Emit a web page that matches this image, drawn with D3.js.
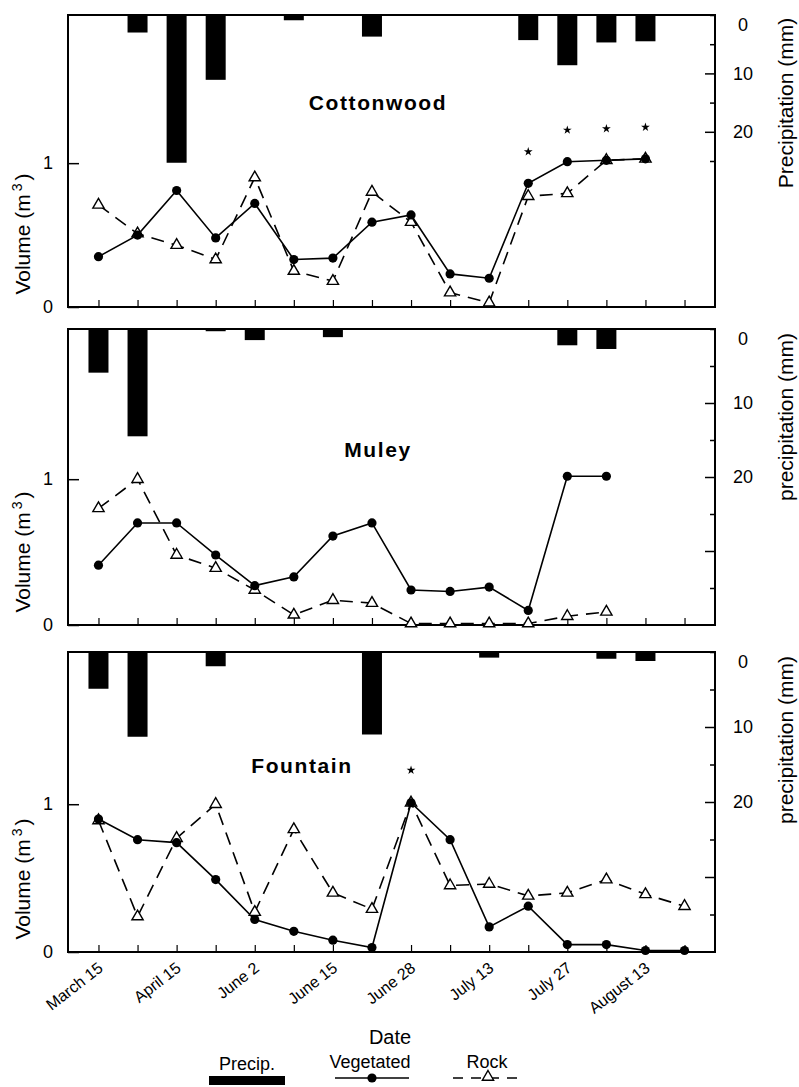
<!DOCTYPE html>
<html>
<head>
<meta charset="utf-8">
<script src="https://cdn.jsdelivr.net/npm/d3@7"></script>
<style>
  body { margin: 0; background: #fff; }
  svg { font-family: "Liberation Sans", Arial, Helvetica, sans-serif; }
</style>
</head>
<body>
<div id="chart"></div>
<script>
// sampling dates, only every other one is labelled on the axis
var dateLabels = ["March 15", "", "April 15", "", "June 2", "", "June 15", "",
                  "June 28", "", "July 13", "", "July 27", "", "August 13", ""];

// runoff volume (m3), null = no sample
var cottonwoodVegetated = [0.35, 0.50, 0.81, 0.48, 0.72, 0.33, 0.34, 0.59, 0.64, 0.23, 0.20, 0.86, 1.01, 1.02, 1.03, null];
var cottonwoodRock      = [0.71, 0.51, 0.43, 0.33, 0.90, 0.25, 0.18, 0.80, 0.59, 0.10, 0.03, 0.77, 0.79, 1.02, 1.03, null];
var cottonwoodPrecip    = [0, 3.0, 25.3, 11.1, 0, 0.9, 0, 3.7, 0, 0, 0, 4.3, 8.6, 4.7, 4.5, 0];  // mm
var cottonwoodSignif    = [11, 12, 13, 14];

var muleyVegetated = [0.41, 0.70, 0.70, 0.48, 0.27, 0.33, 0.61, 0.70, 0.24, 0.23, 0.26, 0.10, 1.02, 1.02, null, null];
var muleyRock      = [0.80, 1.00, 0.48, 0.39, 0.24, 0.07, 0.17, 0.15, 0.01, 0.01, 0.01, 0.01, 0.06, 0.09, null, null];
var muleyPrecip    = [5.9, 14.5, 0, 0.3, 1.5, 0, 1.1, 0, 0, 0, 0, 0, 2.2, 2.7, 0, 0];
var muleySignif    = [];

var fountainVegetated = [0.90, 0.76, 0.74, 0.49, 0.22, 0.14, 0.08, 0.03, 1.01, 0.76, 0.17, 0.31, 0.05, 0.05, 0.01, 0.01];
var fountainRock      = [0.89, 0.24, 0.77, 1.00, 0.27, 0.83, 0.40, 0.29, 1.01, 0.45, 0.46, 0.38, 0.40, 0.49, 0.39, 0.31];
var fountainPrecip    = [4.9, 11.3, 0, 1.9, 0, 0, 0, 11.0, 0, 0, 0.75, 0, 0, 0.9, 1.2, 0];
var fountainSignif    = [8];

var precipLabels = [0, 10, 20];

var W = 799, H = 1087;
var left = 68, right = 715;

var panels = [
    {name: "Cottonwood", top: 15, bottom: 307, veg: cottonwoodVegetated, rock: cottonwoodRock,
     precip: cottonwoodPrecip, signif: cottonwoodSignif, pMax: 50, pTickMax: 25,
     pLabel: "Precipitation (mm)", titleX: 378, titleDy: 95},
    {name: "Muley", top: 329, bottom: 625, veg: muleyVegetated, rock: muleyRock,
     precip: muleyPrecip, signif: muleySignif, pMax: 40, pTickMax: 35,
     pLabel: "precipitation (mm)", titleX: 378, titleDy: 128},
    {name: "Fountain", top: 652, bottom: 952, veg: fountainVegetated, rock: fountainRock,
     precip: fountainPrecip, signif: fountainSignif, pMax: 40, pTickMax: 35,
     pLabel: "precipitation (mm)", titleX: 302, titleDy: 121}
];

var svg = d3.select("#chart").append("svg")
    .attr("width", W)
    .attr("height", H);

var x = d3.scalePoint()
    .domain(d3.range(dateLabels.length))
    .range([left, right])
    .padding(0.78);

var triangle = d3.symbol().type(d3.symbolTriangle).size(55);
var star = d3.symbol().type(d3.symbolStar).size(24);

panels.forEach(function(p, k) {
    var isLast = k === panels.length - 1;
    var y = d3.scaleLinear().domain([0, 2.03]).range([p.bottom, p.top]);
    var yp = d3.scaleLinear().domain([0, p.pMax]).range([p.top, p.bottom]);
    var g = svg.append("g");

    // precipitation bars hang from the top of the frame
    var bars = p.precip.map(function(v, i) { return {i: i, v: v}; })
                       .filter(function(d) { return d.v > 0; });
    g.selectAll("rect.bar")
        .data(bars)
        .enter().append("rect")
        .attr("class", "bar")
        .attr("x", function(d) { return x(d.i) - 10; })
        .attr("y", p.top)
        .attr("width", 20)
        .attr("height", function(d) { return yp(d.v) - p.top; })
        .attr("fill", "#000");

    // left axis (volume)
    g.append("g")
        .attr("transform", "translate(" + left + ",0)")
        .call(d3.axisLeft(y).tickValues([0, 1]).tickSize(-11).tickPadding(15).tickFormat(d3.format("d")))
        .call(function(a) { a.select(".domain").remove(); })
        .call(function(a) {
            a.selectAll("line").attr("stroke-width", 1.5);
            a.selectAll("text").attr("font-size", 18).attr("font-family", "Liberation Sans, Arial, sans-serif");
        });

    // right axis (precipitation)
    g.append("g")
        .attr("transform", "translate(" + right + ",0)")
        .call(d3.axisRight(yp).tickValues(d3.range(0, p.pTickMax + 1, 5)).tickSize(-5).tickPadding(28)
              .tickFormat(function(d) { return precipLabels.indexOf(d) >= 0 ? d : ""; }))
        .call(function(a) { a.select(".domain").remove(); })
        .call(function(a) {
            a.selectAll("line").attr("stroke-width", 1.5)
             .attr("x2", function(d) { return d % 10 === 0 && d > 0 ? -10 : -5; });
            a.selectAll("text")
             .attr("font-size", 18)
             .attr("font-family", "Liberation Sans, Arial, sans-serif")
             .attr("text-anchor", "middle")
             .attr("y", function(d) { return d === 0 ? 10 : 0; });
        });

    // bottom axis (dates)
    g.append("g")
        .attr("transform", "translate(0," + p.bottom + ")")
        .call(d3.axisBottom(x).tickSize(-7)
              .tickFormat(function(i) { return isLast ? dateLabels[i] : ""; }))
        .call(function(a) { a.select(".domain").remove(); })
        .call(function(a) {
            a.selectAll("line").attr("stroke-width", 1.2);
            a.selectAll("text")
             .attr("font-size", 16)
             .attr("font-family", "Liberation Sans, Arial, sans-serif")
             .attr("x", 0).attr("y", 0).attr("dy", 0)
             .attr("text-anchor", "end")
             .attr("transform", "translate(5,18) rotate(-38)");
        });

    // frame
    g.append("rect")
        .attr("x", left)
        .attr("y", p.top)
        .attr("width", right - left)
        .attr("height", p.bottom - p.top)
        .attr("fill", "none")
        .attr("stroke", "#000")
        .attr("stroke-width", 2);

    var line = d3.line()
        .defined(function(d) { return d.v !== null; })
        .x(function(d) { return x(d.i); })
        .y(function(d) { return y(d.v); });

    var veg = p.veg.map(function(v, i) { return {i: i, v: v}; });
    var rock = p.rock.map(function(v, i) { return {i: i, v: v}; });

    g.append("path")
        .datum(rock)
        .attr("d", line)
        .attr("fill", "none")
        .attr("stroke", "#000")
        .attr("stroke-width", 1.6)
        .attr("stroke-dasharray", "13,8");

    g.append("path")
        .datum(veg)
        .attr("d", line)
        .attr("fill", "none")
        .attr("stroke", "#000")
        .attr("stroke-width", 1.6);

    g.selectAll("path.tri")
        .data(rock.filter(function(d) { return d.v !== null; }))
        .enter().append("path")
        .attr("class", "tri")
        .attr("d", triangle)
        .attr("transform", function(d) { return "translate(" + x(d.i) + "," + y(d.v) + ")"; })
        .attr("fill", "#fff")
        .attr("stroke", "#000")
        .attr("stroke-width", 1.4);

    g.selectAll("circle.dot")
        .data(veg.filter(function(d) { return d.v !== null; }))
        .enter().append("circle")
        .attr("class", "dot")
        .attr("cx", function(d) { return x(d.i); })
        .attr("cy", function(d) { return y(d.v); })
        .attr("r", 4.6)
        .attr("fill", "#000");

    // significance stars above the points
    g.selectAll("path.star")
        .data(p.signif)
        .enter().append("path")
        .attr("class", "star")
        .attr("d", star)
        .attr("transform", function(i) {
            var top = Math.max(p.veg[i] || 0, p.rock[i] || 0) + 0.22;
            return "translate(" + x(i) + "," + y(top) + ")";
        })
        .attr("fill", "#000");

    // site name
    g.append("text")
        .attr("x", p.titleX)
        .attr("y", p.top + p.titleDy)
        .attr("text-anchor", "middle")
        .attr("font-size", 21)
        .attr("font-weight", "bold")
        .attr("letter-spacing", 1.6)
        .text(p.name);

    // y axis titles
    var vol = g.append("text")
        .attr("transform", "translate(30," + (p.bottom - 73) + ") rotate(-90)")
        .attr("text-anchor", "middle")
        .attr("font-size", 21);
    vol.append("tspan").text("Volume (m");
    vol.append("tspan").attr("dx", 3).attr("dy", -8).attr("font-size", 14).text("3");
    vol.append("tspan").attr("dx", 3).attr("dy", 8).text(")");

    g.append("text")
        .attr("transform", "translate(793," + (p.top + 88) + ") rotate(-90)")
        .attr("text-anchor", "middle")
        .attr("font-size", 21)
        .text(p.pLabel);
});

// x axis title
svg.append("text")
    .attr("x", 390)
    .attr("y", 1044)
    .attr("text-anchor", "middle")
    .attr("font-size", 20)
    .text("Date");

// legend
var leg = svg.append("g");
leg.append("text").attr("x", 247).attr("y", 1070).attr("text-anchor", "middle")
   .attr("font-size", 18).text("Precip.");
leg.append("rect").attr("x", 209).attr("y", 1076).attr("width", 76).attr("height", 9).attr("fill", "#000");

leg.append("text").attr("x", 370).attr("y", 1068).attr("text-anchor", "middle")
   .attr("font-size", 18).text("Vegetated");
leg.append("line").attr("x1", 335).attr("x2", 409).attr("y1", 1078).attr("y2", 1078)
   .attr("stroke", "#000").attr("stroke-width", 1.6);
leg.append("circle").attr("cx", 372).attr("cy", 1078).attr("r", 4.6).attr("fill", "#000");

leg.append("text").attr("x", 487).attr("y", 1068).attr("text-anchor", "middle")
   .attr("font-size", 18).text("Rock");
leg.append("line").attr("x1", 453).attr("x2", 519).attr("y1", 1078).attr("y2", 1078)
   .attr("stroke", "#000").attr("stroke-width", 1.6).attr("stroke-dasharray", "10,8");
leg.append("path").attr("d", triangle).attr("transform", "translate(488,1077)")
   .attr("fill", "#fff").attr("stroke", "#000").attr("stroke-width", 1.4);
</script>
</body>
</html>
